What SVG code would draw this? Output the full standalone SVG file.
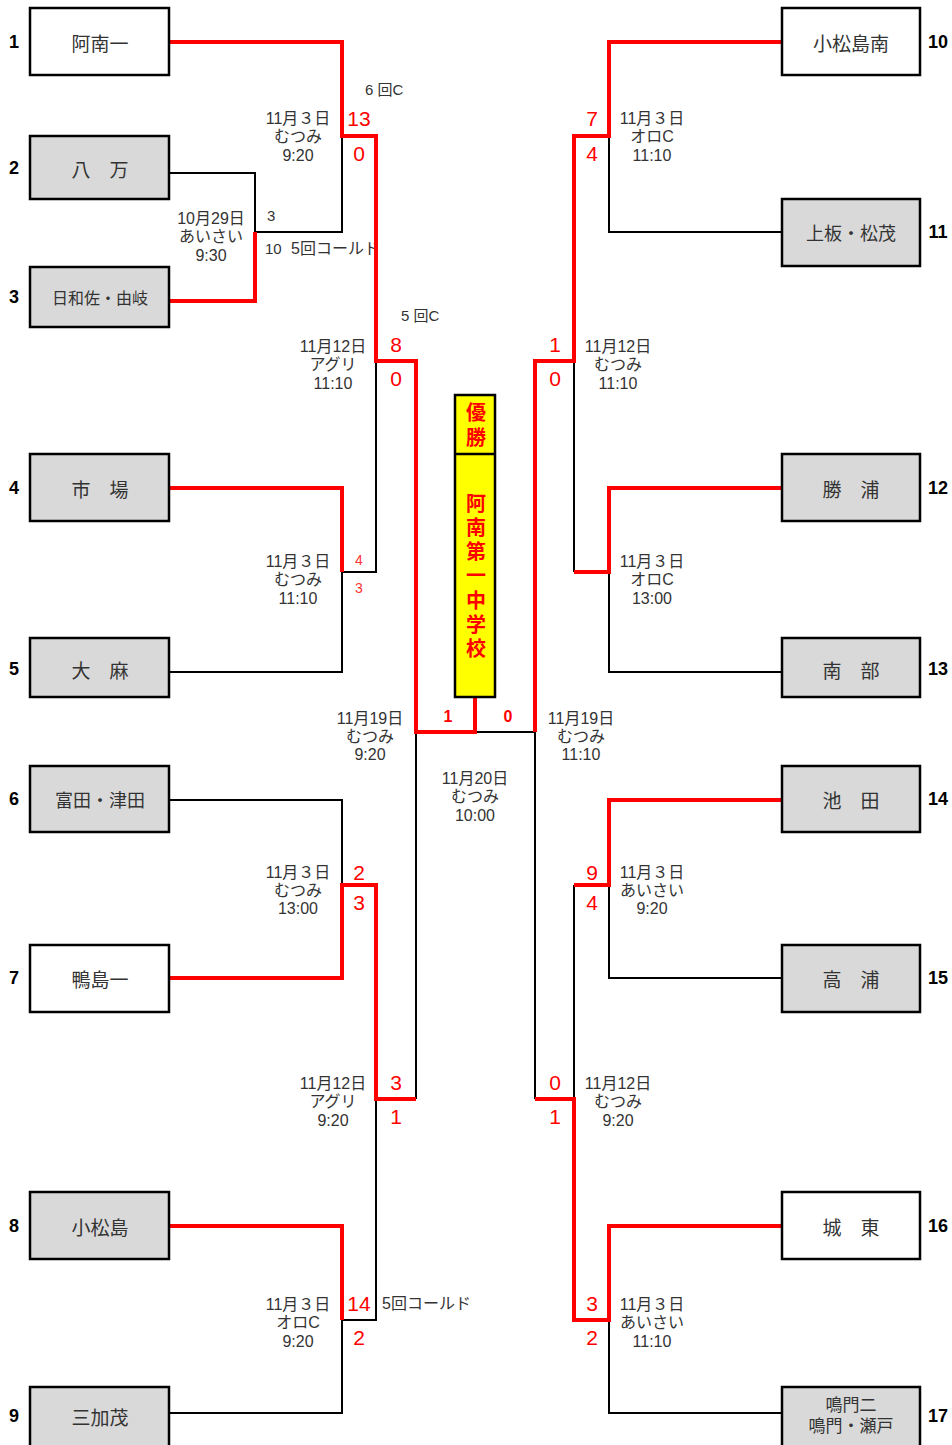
<svg xmlns="http://www.w3.org/2000/svg" width="952" height="1445" viewBox="0 0 952 1445">
<style>
.bx{stroke:#000;stroke-width:2.5}
.w{fill:#fff}
.g{fill:#d9d9d9}
.nm{font-family:"Noto Sans CJK JP","Noto Sans CJK SC",sans-serif;font-size:19px;fill:#333;text-anchor:middle;dominant-baseline:central}
.nm2{font-family:"Liberation Sans","Noto Sans CJK JP","Noto Sans CJK SC",sans-serif;font-size:17px;fill:#333;text-anchor:middle;dominant-baseline:central}
.num{font-family:"Liberation Sans",Arial,sans-serif;font-weight:bold;font-size:18px;fill:#000;text-anchor:middle;dominant-baseline:central}
.bl{fill:none;stroke:#000;stroke-width:2}
.rd{fill:none;stroke:#f00;stroke-width:4;stroke-linejoin:miter}
.sc{font-family:"Liberation Sans",Arial,sans-serif;font-size:21px;fill:#f00;text-anchor:middle;dominant-baseline:central}
.ss{font-family:"Liberation Sans",Arial,sans-serif;font-size:14px;fill:#f33;text-anchor:middle;dominant-baseline:central}
.dt{font-family:"Liberation Sans","Noto Sans CJK JP","Noto Sans CJK SC",sans-serif;font-size:16px;fill:#333;text-anchor:middle;dominant-baseline:central}
.an{font-family:"Liberation Sans","Noto Sans CJK JP","Noto Sans CJK SC",sans-serif;font-size:15px;fill:#333;dominant-baseline:central}
.ch{font-family:"Noto Sans CJK JP","Noto Sans CJK SC",sans-serif;font-size:20px;font-weight:bold;fill:#f00;writing-mode:vertical-rl;text-anchor:start}
</style>
<rect width="952" height="1445" fill="#fff"/>
<g id="notes">
<text class="an" x="267" y="215">3</text>
<text class="an" x="265" y="248">10<tspan x="291" style="font-size:16px">5回コールド</tspan></text>
<text class="an" x="365" y="89">6 回C</text>
<text class="an" x="401" y="315">5 回C</text>
<text class="an" x="382" y="1303" style="font-size:16px">5回コールド</text>
</g>
<g id="connectors">
<polyline class="bl" points="169,173 255,173 255,232"/>
<polyline class="bl" points="255,232 342,232 342,136"/>
<polyline class="bl" points="376,361 376,572 342,572"/>
<polyline class="bl" points="169,672 342,672 342,572"/>
<polyline class="bl" points="169,800 342,800 342,885"/>
<polyline class="bl" points="376,1099 376,1320 342,1320"/>
<polyline class="bl" points="169,1413 342,1413 342,1320"/>
<polyline class="bl" points="416,732 416,1099"/>
<polyline class="bl" points="475,732 535,732 535,1099"/>
<polyline class="bl" points="782,232 609,232 609,136"/>
<polyline class="bl" points="574,361 574,572"/>
<polyline class="bl" points="782,672 609,672 609,572"/>
<polyline class="bl" points="574,885 574,1099"/>
<polyline class="bl" points="782,978 609,978 609,885"/>
<polyline class="bl" points="782,1413 609,1413 609,1320"/>
<polyline class="rd" points="169,42 342,42 342,136 376,136 376,361 416,361 416,732 475,732 475,697"/>
<polyline class="rd" points="169,301 255,301 255,232"/>
<polyline class="rd" points="169,488 342,488 342,572"/>
<polyline class="rd" points="169,978 342,978 342,885 376,885 376,1099 416,1099"/>
<polyline class="rd" points="169,1226 342,1226 342,1320"/>
<polyline class="rd" points="782,42 609,42 609,136 574,136 574,361 535,361 535,732"/>
<polyline class="rd" points="782,488 609,488 609,572 574,572"/>
<polyline class="rd" points="782,800 609,800 609,885 574,885"/>
<polyline class="rd" points="782,1226 609,1226 609,1320 574,1320 574,1099 535,1099"/>
</g>
<g id="n1"><rect class="bx w" x="30" y="8" width="139" height="67"/><text class="nm" x="100" y="42">阿南一</text><text class="num" x="14" y="42">1</text></g>
<g id="n2"><rect class="bx g" x="30" y="136" width="139" height="63"/><text class="nm" x="100" y="168">八　万</text><text class="num" x="14" y="168">2</text></g>
<g id="n3"><rect class="bx g" x="30" y="267" width="139" height="60"/><text class="nm" x="100" y="297" style="font-size:16px">日和佐・由岐</text><text class="num" x="14" y="297">3</text></g>
<g id="n4"><rect class="bx g" x="30" y="454" width="139" height="67"/><text class="nm" x="100" y="488">市　場</text><text class="num" x="14" y="488">4</text></g>
<g id="n5"><rect class="bx g" x="30" y="638" width="139" height="59"/><text class="nm" x="100" y="669">大　麻</text><text class="num" x="14" y="669">5</text></g>
<g id="n6"><rect class="bx g" x="30" y="766" width="139" height="66"/><text class="nm" x="100" y="799" style="font-size:18px">富田・津田</text><text class="num" x="14" y="799">6</text></g>
<g id="n7"><rect class="bx w" x="30" y="945" width="139" height="67"/><text class="nm" x="100" y="978">鴨島一</text><text class="num" x="14" y="978">7</text></g>
<g id="n8"><rect class="bx g" x="30" y="1192" width="139" height="67"/><text class="nm" x="100" y="1226">小松島</text><text class="num" x="14" y="1226">8</text></g>
<g id="n9"><rect class="bx g" x="30" y="1387" width="139" height="70"/><text class="nm" x="100" y="1416">三加茂</text><text class="num" x="14" y="1416">9</text></g>
<g id="n10"><rect class="bx w" x="782" y="8" width="138" height="67"/><text class="nm" x="851" y="42">小松島南</text><text class="num" x="938" y="42">10</text></g>
<g id="n11"><rect class="bx g" x="782" y="199" width="138" height="67"/><text class="nm" x="851" y="232" style="font-size:18px">上板・松茂</text><text class="num" x="938" y="232">11</text></g>
<g id="n12"><rect class="bx g" x="782" y="454" width="138" height="67"/><text class="nm" x="851" y="488">勝　浦</text><text class="num" x="938" y="488">12</text></g>
<g id="n13"><rect class="bx g" x="782" y="638" width="138" height="59"/><text class="nm" x="851" y="669">南　部</text><text class="num" x="938" y="669">13</text></g>
<g id="n14"><rect class="bx g" x="782" y="766" width="138" height="66"/><text class="nm" x="851" y="799">池　田</text><text class="num" x="938" y="799">14</text></g>
<g id="n15"><rect class="bx g" x="782" y="945" width="138" height="67"/><text class="nm" x="851" y="978">高　浦</text><text class="num" x="938" y="978">15</text></g>
<g id="n16"><rect class="bx w" x="782" y="1192" width="138" height="67"/><text class="nm" x="851" y="1226">城　東</text><text class="num" x="938" y="1226">16</text></g>
<g id="n17"><rect class="bx g" x="782" y="1387" width="138" height="70"/><text class="nm2"><tspan x="851" y="1405">鳴門二</tspan><tspan x="851" y="1426">鳴門・瀬戸</tspan></text><text class="num" x="938" y="1416">17</text></g>
<g id="champion">
<rect x="455" y="395" width="40" height="302" fill="#ff0" stroke="#000" stroke-width="2.5"/>
<line x1="455" y1="454" x2="495" y2="454" stroke="#000" stroke-width="2.5"/>
<text class="ch" x="476" y="402" style="letter-spacing:5px">優勝</text>
<text class="ch" x="476" y="493" style="letter-spacing:4.3px">阿南第一中学校</text>
</g>
<g id="scores">
<text class="sc" x="359" y="118">13</text><text class="sc" x="359" y="153">0</text>
<text class="sc" x="396" y="344">8</text><text class="sc" x="396" y="378">0</text>
<text class="ss" x="359" y="560">4</text><text class="ss" x="359" y="588">3</text>
<text class="sc" x="359" y="872">2</text><text class="sc" x="359" y="902">3</text>
<text class="sc" x="396" y="1082">3</text><text class="sc" x="396" y="1116">1</text>
<text class="sc" x="359" y="1303">14</text><text class="sc" x="359" y="1337">2</text>
<text class="sc" x="448" y="716" style="font-size:16px;font-weight:bold">1</text><text class="sc" x="508" y="716" style="font-size:16px;font-weight:bold">0</text>
<text class="sc" x="592" y="118">7</text><text class="sc" x="592" y="153">4</text>
<text class="sc" x="555" y="344">1</text><text class="sc" x="555" y="378">0</text>
<text class="sc" x="592" y="872">9</text><text class="sc" x="592" y="902">4</text>
<text class="sc" x="555" y="1082">0</text><text class="sc" x="555" y="1116">1</text>
<text class="sc" x="592" y="1303">3</text><text class="sc" x="592" y="1337">2</text>
</g>
<g id="dates">
<text class="dt"><tspan x="298" y="118">11月３日</tspan><tspan x="298" y="136">むつみ</tspan><tspan x="298" y="155">9:20</tspan></text>
<text class="dt"><tspan x="211" y="218">10月29日</tspan><tspan x="211" y="236">あいさい</tspan><tspan x="211" y="255">9:30</tspan></text>
<text class="dt"><tspan x="333" y="346">11月12日</tspan><tspan x="333" y="364">アグリ</tspan><tspan x="333" y="383">11:10</tspan></text>
<text class="dt"><tspan x="298" y="561">11月３日</tspan><tspan x="298" y="579">むつみ</tspan><tspan x="298" y="598">11:10</tspan></text>
<text class="dt"><tspan x="370" y="718">11月19日</tspan><tspan x="370" y="736">むつみ</tspan><tspan x="370" y="754">9:20</tspan></text>
<text class="dt"><tspan x="475" y="778">11月20日</tspan><tspan x="475" y="796">むつみ</tspan><tspan x="475" y="815">10:00</tspan></text>
<text class="dt"><tspan x="298" y="872">11月３日</tspan><tspan x="298" y="890">むつみ</tspan><tspan x="298" y="908">13:00</tspan></text>
<text class="dt"><tspan x="333" y="1083">11月12日</tspan><tspan x="333" y="1101">アグリ</tspan><tspan x="333" y="1120">9:20</tspan></text>
<text class="dt"><tspan x="298" y="1304">11月３日</tspan><tspan x="298" y="1322">オロC</tspan><tspan x="298" y="1341">9:20</tspan></text>
<text class="dt"><tspan x="652" y="118">11月３日</tspan><tspan x="652" y="136">オロC</tspan><tspan x="652" y="155">11:10</tspan></text>
<text class="dt"><tspan x="618" y="346">11月12日</tspan><tspan x="618" y="364">むつみ</tspan><tspan x="618" y="383">11:10</tspan></text>
<text class="dt"><tspan x="652" y="561">11月３日</tspan><tspan x="652" y="579">オロC</tspan><tspan x="652" y="598">13:00</tspan></text>
<text class="dt"><tspan x="581" y="718">11月19日</tspan><tspan x="581" y="736">むつみ</tspan><tspan x="581" y="754">11:10</tspan></text>
<text class="dt"><tspan x="652" y="872">11月３日</tspan><tspan x="652" y="890">あいさい</tspan><tspan x="652" y="908">9:20</tspan></text>
<text class="dt"><tspan x="618" y="1083">11月12日</tspan><tspan x="618" y="1101">むつみ</tspan><tspan x="618" y="1120">9:20</tspan></text>
<text class="dt"><tspan x="652" y="1304">11月３日</tspan><tspan x="652" y="1322">あいさい</tspan><tspan x="652" y="1341">11:10</tspan></text>
</g>
</svg>
